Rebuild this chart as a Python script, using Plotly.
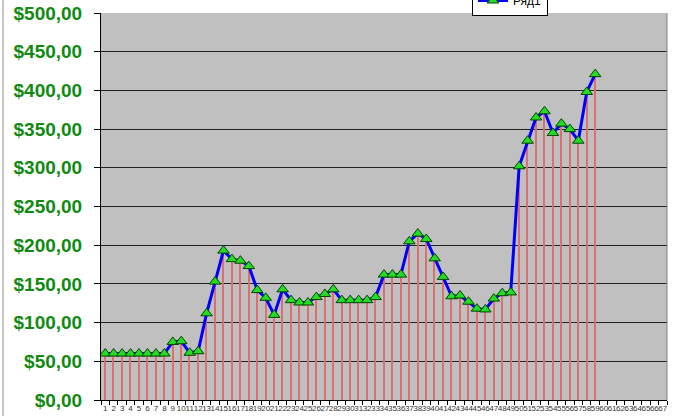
import plotly.graph_objects as go

categories = [str(i) for i in range(1, 68)]
values = [60, 60, 60, 60, 60, 60, 60, 60, 75, 76,
          61, 63, 112, 153, 193, 182, 180, 173, 142, 132,
          110, 143, 129, 126, 126, 133, 137, 143, 129, 129,
          129, 129, 133, 162, 162, 162, 205, 215, 208, 183,
          159, 134, 135, 127, 118, 117, 131, 138, 139, 302,
          335, 365, 373, 345, 357, 350, 335, 398, 421]
series_name = "Ряд1"
y_tick_values = [0, 50, 100, 150, 200, 250, 300, 350, 400, 450, 500]
y_tick_labels = ["$0,00", "$50,00", "$100,00", "$150,00", "$200,00", "$250,00",
                 "$300,00", "$350,00", "$400,00", "$450,00", "$500,00"]

x_data = categories[:len(values)]

fig = go.Figure()
fig.add_trace(go.Bar(
    x=x_data, y=values, width=0.17,
    marker=dict(color="#dd6f6f", line=dict(width=0)),
    showlegend=False, hoverinfo="skip",
))
fig.add_trace(go.Scatter(
    x=x_data, y=values, mode="lines+markers", name=series_name,
    line=dict(color="#0000ff", width=3),
    marker=dict(symbol="triangle-up", size=10, color="#22dd22",
                line=dict(color="#004400", width=1)),
))

fig.update_layout(
    width=700, height=416,
    margin=dict(l=101, r=33, t=13, b=16, autoexpand=False),
    paper_bgcolor="white", plot_bgcolor="#c0c0c0",
    font=dict(family="Liberation Sans, Arial, sans-serif"),
    showlegend=True,
    legend=dict(x=0.6555, y=(400 - 16) / 387, xanchor="left", yanchor="bottom",
                bgcolor="white", bordercolor="black", borderwidth=1,
                font=dict(size=12, color="black"), itemwidth=30,
                tracegroupgap=0),
    bargap=0,
)
fig.update_xaxes(
    type="category", categoryorder="array", categoryarray=categories,
    range=[-0.5, len(categories) - 0.5],
    tickmode="array", tickvals=categories, ticktext=categories,
    tickangle=0, tickson="boundaries",
    ticks="outside", ticklen=4, tickcolor="black",
    tickfont=dict(size=8, color="#333333"),
    showline=True, linecolor="black", linewidth=1,
    showgrid=False, zeroline=False,
)
fig.update_yaxes(
    range=[0, 500], tickmode="array", tickvals=y_tick_values, ticktext=y_tick_labels,
    ticks="outside", ticklen=6, tickcolor="black",
    tickfont=dict(size=19, color="#108a10", family="Liberation Sans, Arial", weight="bold"),
    ticklabelstandoff=8,
    showline=True, linecolor="black", linewidth=1,
    showgrid=True, gridcolor="#222222", gridwidth=1, zeroline=False,
)
fig.add_shape(type="line", xref="paper", yref="paper",
              x0=-98 / 566, x1=-98 / 566, y0=-16 / 387, y1=1 + 13 / 387,
              line=dict(color="#909090", width=1))
fig.add_shape(type="line", xref="paper", yref="paper",
              x0=1, x1=1, y0=0, y1=1,
              line=dict(color="#808080", width=1))

fig.write_html("out.html", config=dict(displayModeBar=False),
               post_script="document.body.style.margin='0';document.body.style.overflow='hidden';")
